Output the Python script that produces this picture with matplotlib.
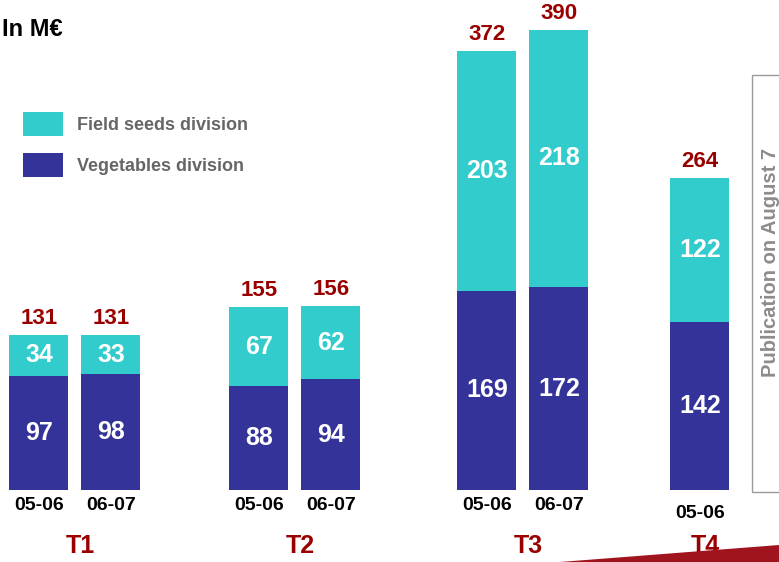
import matplotlib.pyplot as plt
from matplotlib.patches import Patch, Rectangle, Polygon

plt.rcParams['font.family'] = ['Liberation Sans', 'DejaVu Sans']

# values in M€ per quarter
quarters = ['T1', 'T2', 'T3', 'T4']
periods = ['05-06', '06-07']
field_0506 = [34, 67, 203, 122]
field_0607 = [33, 62, 218, None]
veg_0506 = [97, 88, 169, 142]
veg_0607 = [98, 94, 172, None]

cyan = '#33CCCC'
navy = '#333399'
red = '#990000'

# layout: x in pixels, y in M€ (1.18 px per M€, baseline at pixel row 490)
scale = 1.18
base = 490
group_x = [75, 295, 523, 700]
half_gap = 36
bar_w = 59


def row(p):
    return (base - p) / scale


fig = plt.figure(figsize=(7.79, 5.62), dpi=100)
ax = fig.add_axes([0, 0, 1, 1])
ax.set_xlim(0, 779)
ax.set_ylim(row(562), row(0))
ax.axis('off')

series = [(periods[0], field_0506, veg_0506), (periods[1], field_0607, veg_0607)]
for i, q in enumerate(quarters):
    bars = [s for s in series if s[1][i] is not None]
    for j, (per, fld, veg) in enumerate(bars):
        if len(bars) == 1:
            x = group_x[i]
        else:
            x = group_x[i] + (j * 2 - 1) * half_gap
        v, f = veg[i], fld[i]
        ax.bar(x, v, width=bar_w, color=navy)
        ax.bar(x, f, bottom=v, width=bar_w, color=cyan)
        ax.text(x, v / 2, str(v), ha='center', va='center', color='white',
                fontsize=18, fontweight='bold')
        ax.text(x, v + f / 2, str(f), ha='center', va='center', color='white',
                fontsize=18, fontweight='bold')
        ax.text(x, v + f + 6 / scale, str(v + f), ha='center', va='bottom',
                color=red, fontsize=16, fontweight='bold')
        lab_y = 513 if len(bars) == 1 else 505
        ax.text(x, row(lab_y), per, ha='center', va='center', color='black',
                fontsize=14, fontweight='bold')
    ax.text(group_x[i] + 5, row(546), q, ha='center', va='center', color=red,
            fontsize=18, fontweight='bold')

# title
fig.text(2 / 779, 1 - 30 / 562, 'In M€', ha='left', va='center',
         fontsize=17, fontweight='bold', color='black')

# legend
handles = [Patch(facecolor=cyan, label='Field seeds division'),
           Patch(facecolor=navy, label='Vegetables division')]
leg = ax.legend(handles=handles, loc='upper left',
                bbox_to_anchor=(23 / 779, 1 - 112 / 562),
                bbox_transform=fig.transFigure, frameon=False,
                prop={'size': 13, 'weight': 'bold'},
                handlelength=2.2, handleheight=1.7,
                labelspacing=0.9, handletextpad=0.8, borderpad=0,
                borderaxespad=0)
for t in leg.get_texts():
    t.set_color('#666666')

# publication box on the right
fig.add_artist(Rectangle((752 / 779, 1 - 492 / 562), 0.1, 417 / 562,
                         transform=fig.transFigure, fill=False,
                         edgecolor='#999999', linewidth=1))
fig.text(771 / 779, 1 - 262 / 562, 'Publication on August 7', rotation=90,
         ha='center', va='center', color='#8C8C8C', fontsize=14.5,
         fontweight='bold')

# red swoosh at bottom right
fig.add_artist(Polygon([(560 / 779, 0), (779 / 779, 17 / 562), (1, 0)],
                       closed=True, transform=fig.transFigure,
                       facecolor='#A0141E', edgecolor='none'))

fig.savefig('out.png', dpi=100)
